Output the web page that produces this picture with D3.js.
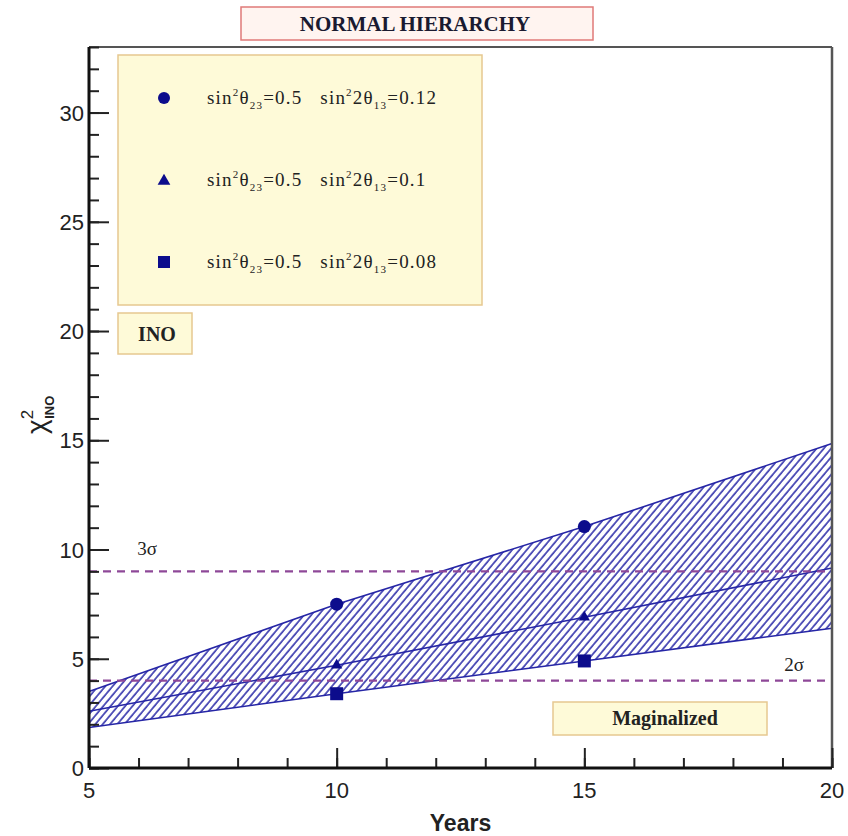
<!DOCTYPE html>
<html>
<head>
<meta charset="utf-8">
<script src="https://cdn.jsdelivr.net/npm/d3@7"></script>
<style>
body { margin: 0; background: #fff; }
svg { display: block; }
</style>
</head>
<body>
<div id="viz"></div>
<script>
// chart data
var years = [5, 10, 15, 20];
var chiTheta012 = [3.5, 7.5, 11.05, 14.85];
var chiTheta010 = [2.6, 4.7, 6.9, 9.15];
var chiTheta008 = [1.85, 3.4, 4.9, 6.4];
var markerYears = [10, 15];
var sigmaLevels = [9, 4];
var sigmaLabels = ['3σ', '2σ'];
var legendValues = ['0.12', '0.1', '0.08'];
var yMajorTicks = [0, 5, 10, 15, 20, 25, 30];
var xMajorTicks = [5, 10, 15, 20];

var width = 848, height = 836;
var plotL = 89, plotR = 832, plotT = 47, plotB = 768;

var svg = d3.select('#viz').append('svg')
  .attr('width', width)
  .attr('height', height);

var x = d3.scaleLinear().domain([5, 20]).range([plotL, plotR]);
var y = d3.scaleLinear().domain([0, 33]).range([plotB, plotT]);

var blue = '#2626a6';
var navy = '#0c0c8c';
var serif = '"Liberation Serif", "DejaVu Serif", serif';
var sans = '"Liberation Sans", Arial, sans-serif';

// hatch pattern for the band
var defs = svg.append('defs');
defs.append('pattern')
  .attr('id', 'hatch')
  .attr('patternUnits', 'userSpaceOnUse')
  .attr('width', 5.6)
  .attr('height', 10)
  .attr('patternTransform', 'rotate(40)')
  .append('line')
  .attr('x1', 1).attr('y1', 0)
  .attr('x2', 1).attr('y2', 10)
  .attr('stroke', blue)
  .attr('stroke-width', 1.5);

// band between the 0.08 and 0.12 curves
var band = d3.area()
  .x(function(d, i) { return x(years[i]); })
  .y0(function(d, i) { return y(chiTheta008[i]); })
  .y1(function(d) { return y(d); });

svg.append('path')
  .datum(chiTheta012)
  .attr('d', band)
  .attr('fill', 'url(#hatch)');

var line = d3.line()
  .x(function(d, i) { return x(years[i]); })
  .y(function(d) { return y(d); });

[chiTheta012, chiTheta010, chiTheta008].forEach(function(s) {
  svg.append('path')
    .datum(s)
    .attr('d', line)
    .attr('fill', 'none')
    .attr('stroke', blue)
    .attr('stroke-width', 1.6);
});

// sigma lines
svg.selectAll('.sigma')
  .data(sigmaLevels)
  .enter()
  .append('line')
  .attr('class', 'sigma')
  .attr('x1', x(5)).attr('x2', x(20))
  .attr('y1', function(d) { return y(d); })
  .attr('y2', function(d) { return y(d); })
  .attr('stroke', '#8e4898')
  .attr('stroke-width', 2.2)
  .attr('stroke-dasharray', '8,6');

svg.append('text')
  .attr('x', 147).attr('y', y(sigmaLevels[0]) - 16)
  .attr('text-anchor', 'middle')
  .attr('font-family', serif).attr('font-size', 19)
  .attr('fill', '#222')
  .text(sigmaLabels[0]);

svg.append('text')
  .attr('x', 794).attr('y', y(sigmaLevels[1]) - 10)
  .attr('text-anchor', 'middle')
  .attr('font-family', serif).attr('font-size', 19)
  .attr('fill', '#222')
  .text(sigmaLabels[1]);

// markers
function markerPoints(series) {
  return markerYears.map(function(yr) {
    return { yr: yr, v: series[years.indexOf(yr)] };
  });
}

svg.selectAll('.circ')
  .data(markerPoints(chiTheta012))
  .enter().append('circle')
  .attr('cx', function(d) { return x(d.yr); })
  .attr('cy', function(d) { return y(d.v); })
  .attr('r', 6.5)
  .attr('fill', navy);

var tri = d3.symbol().type(d3.symbolTriangle).size(55);
svg.selectAll('.tri')
  .data(markerPoints(chiTheta010))
  .enter().append('path')
  .attr('d', tri)
  .attr('transform', function(d) { return 'translate(' + x(d.yr) + ',' + y(d.v) + ')'; })
  .attr('fill', navy);

svg.selectAll('.sq')
  .data(markerPoints(chiTheta008))
  .enter().append('rect')
  .attr('x', function(d) { return x(d.yr) - 6.5; })
  .attr('y', function(d) { return y(d.v) - 6.5; })
  .attr('width', 13).attr('height', 13)
  .attr('fill', navy);

// frame
svg.append('line').attr('x1', plotL).attr('x2', plotR).attr('y1', plotT).attr('y2', plotT)
  .attr('stroke', '#555').attr('stroke-width', 2);
svg.append('line').attr('x1', plotR).attr('x2', plotR).attr('y1', plotT).attr('y2', plotB)
  .attr('stroke', '#555').attr('stroke-width', 2.5);

// y axis ticks (inside)
svg.append('g')
  .attr('transform', 'translate(' + plotL + ',0)')
  .call(d3.axisRight(y).tickValues(d3.range(0, 34)).tickSize(10).tickFormat(''))
  .call(function(g) { g.select('.domain').remove(); })
  .selectAll('line').attr('stroke', '#222').attr('stroke-width', 2);

svg.append('g')
  .attr('transform', 'translate(' + plotL + ',0)')
  .call(d3.axisRight(y).tickValues(yMajorTicks).tickSize(20).tickFormat(''))
  .call(function(g) { g.select('.domain').remove(); })
  .selectAll('line').attr('stroke', '#222').attr('stroke-width', 2);

svg.selectAll('.ylab')
  .data(yMajorTicks)
  .enter().append('text')
  .attr('x', plotL - 5)
  .attr('y', function(d) { return y(d) + 8; })
  .attr('text-anchor', 'end')
  .attr('font-family', sans).attr('font-size', 22)
  .attr('fill', '#222')
  .text(function(d) { return d; });

// x axis ticks (inside)
svg.append('g')
  .attr('transform', 'translate(0,' + plotB + ')')
  .call(d3.axisTop(x).tickValues(d3.range(5, 21)).tickSize(10).tickFormat(''))
  .call(function(g) { g.select('.domain').remove(); })
  .selectAll('line').attr('stroke', '#222').attr('stroke-width', 2);

svg.append('g')
  .attr('transform', 'translate(0,' + plotB + ')')
  .call(d3.axisTop(x).tickValues(xMajorTicks).tickSize(20).tickFormat(''))
  .call(function(g) { g.select('.domain').remove(); })
  .selectAll('line').attr('stroke', '#222').attr('stroke-width', 2);

svg.selectAll('.xlab')
  .data(xMajorTicks)
  .enter().append('text')
  .attr('x', function(d) { return x(d); })
  .attr('y', plotB + 30)
  .attr('text-anchor', 'middle')
  .attr('font-family', sans).attr('font-size', 22)
  .attr('fill', '#222')
  .text(function(d) { return d; });

// axis lines
svg.append('line').attr('x1', plotL).attr('x2', plotL).attr('y1', plotT).attr('y2', plotB)
  .attr('stroke', '#111').attr('stroke-width', 3);
svg.append('line').attr('x1', plotL).attr('x2', plotR).attr('y1', plotB).attr('y2', plotB)
  .attr('stroke', '#111').attr('stroke-width', 3);

// axis titles
svg.append('text')
  .attr('x', x(12.5)).attr('y', 831)
  .attr('text-anchor', 'middle')
  .attr('font-family', sans).attr('font-size', 23).attr('font-weight', 'bold')
  .attr('fill', '#222')
  .text('Years');

var ylab = svg.append('text')
  .attr('transform', 'translate(46,434) rotate(-90)')
  .attr('font-family', sans).attr('fill', '#222');
ylab.append('tspan').attr('font-size', 28).text('χ');
ylab.append('tspan').attr('font-size', 17).attr('dy', -13).text('2');
ylab.append('tspan').attr('font-size', 13).attr('font-weight', 'bold').attr('dx', -9).attr('dy', 21).text('INO');

// title box
svg.append('rect')
  .attr('x', 241).attr('y', 7).attr('width', 352).attr('height', 33)
  .attr('fill', '#fff4f0').attr('stroke', '#e07a78').attr('stroke-width', 1.5);
svg.append('text')
  .attr('x', 415).attr('y', 31)
  .attr('text-anchor', 'middle')
  .attr('font-family', serif).attr('font-size', 21).attr('font-weight', 'bold')
  .attr('fill', '#1a1a30')
  .text('NORMAL HIERARCHY');

// legend box
svg.append('rect')
  .attr('x', 118).attr('y', 55).attr('width', 364).attr('height', 250)
  .attr('fill', '#fefad8').attr('stroke', '#e6c890').attr('stroke-width', 1.5);

var legendY = [98, 180, 262];
svg.append('circle').attr('cx', 164).attr('cy', legendY[0]).attr('r', 6).attr('fill', navy);
svg.append('path').attr('d', d3.symbol().type(d3.symbolTriangle).size(70))
  .attr('transform', 'translate(164,' + (legendY[1] + 1) + ')').attr('fill', navy);
svg.append('rect').attr('x', 158).attr('y', legendY[2] - 6).attr('width', 12).attr('height', 12).attr('fill', navy);

legendValues.forEach(function(v, i) {
  var t = svg.append('text')
    .attr('x', 207).attr('y', legendY[i] + 6)
    .attr('font-family', serif).attr('font-size', 19)
    .attr('letter-spacing', 1.2)
    .attr('fill', '#222');
  t.append('tspan').text('sin');
  t.append('tspan').attr('font-size', 11).attr('dy', -8).text('2');
  t.append('tspan').attr('dy', 8).text('θ');
  t.append('tspan').attr('font-size', 11).attr('dy', 5).text('23');
  t.append('tspan').attr('dy', -5).text('=0.5\u00a0\u00a0\u00a0sin');
  t.append('tspan').attr('font-size', 11).attr('dy', -8).text('2');
  t.append('tspan').attr('dy', 8).text('2θ');
  t.append('tspan').attr('font-size', 11).attr('dy', 5).text('13');
  t.append('tspan').attr('dy', -5).text('=' + v);
});

// INO box
svg.append('rect')
  .attr('x', 118).attr('y', 313).attr('width', 74).attr('height', 41)
  .attr('fill', '#fefad8').attr('stroke', '#e6c890').attr('stroke-width', 1.5);
svg.append('text')
  .attr('x', 157).attr('y', 341)
  .attr('text-anchor', 'middle')
  .attr('font-family', serif).attr('font-size', 20).attr('font-weight', 'bold')
  .attr('fill', '#222')
  .text('INO');

// Maginalized box
svg.append('rect')
  .attr('x', 553).attr('y', 702).attr('width', 214).attr('height', 33)
  .attr('fill', '#fefad8').attr('stroke', '#e6c890').attr('stroke-width', 1.5);
svg.append('text')
  .attr('x', 665).attr('y', 725)
  .attr('text-anchor', 'middle')
  .attr('font-family', serif).attr('font-size', 20).attr('font-weight', 'bold')
  .attr('fill', '#222')
  .text('Maginalized');
</script>
</body>
</html>
